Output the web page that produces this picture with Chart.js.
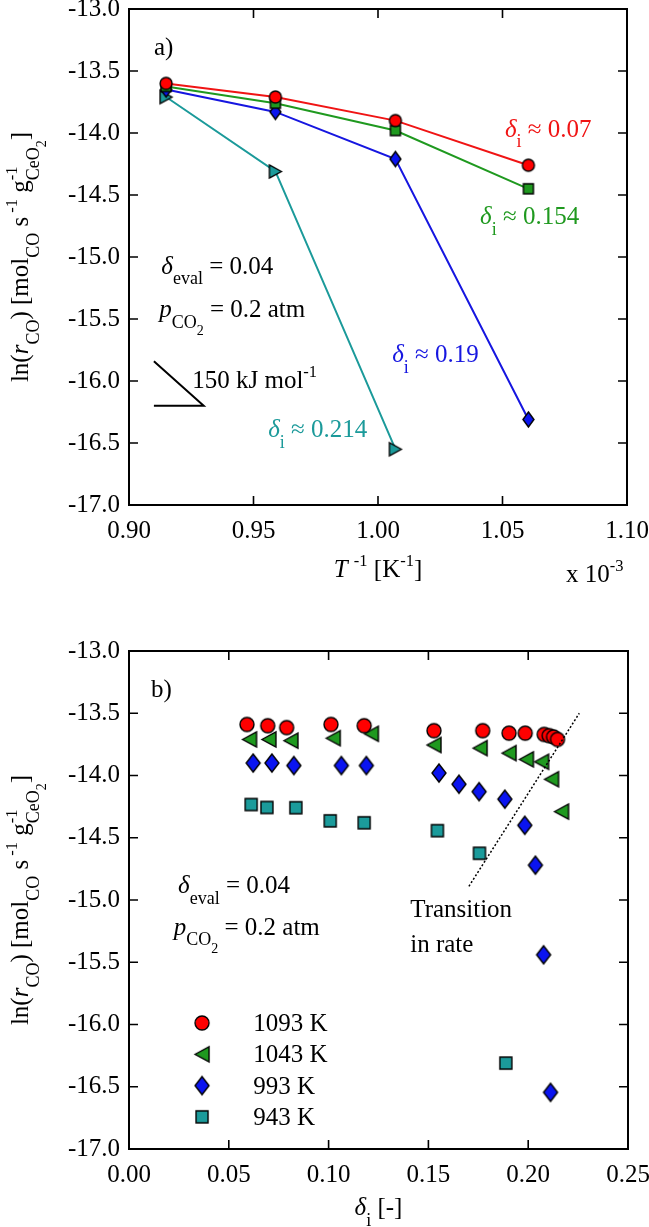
<!DOCTYPE html>
<html>
<head>
<meta charset="utf-8">
<script src="https://cdn.jsdelivr.net/npm/chart.js@4.4.1/dist/chart.umd.min.js"></script>
<style>
  html, body { margin: 0; padding: 0; background: #fff; }
  #wrap { position: relative; width: 649px; height: 1227px; overflow: hidden; }
  #chartA { position: absolute; left: 0; top: 0; }
  #chartB { position: absolute; left: 0; top: 610px; }
</style>
</head>
<body>
<div id="wrap">
  <canvas id="chartA" width="649" height="610"></canvas>
  <canvas id="chartB" width="649" height="617"></canvas>
</div>
<script>
// --- a) Arrhenius plot: x = 1000/T (1093, 1043, 993, 943 K) ---
const invTemp = [0.9149, 0.9588, 1.0070, 1.0604];
const lnRateD007 = [-13.60, -13.71, -13.90, -14.26];
const lnRateD0154 = [-13.625, -13.76, -13.98, -14.45];
const lnRateD019 = [-13.65, -13.83, -14.21, -16.31];
const lnRateD0214 = [-13.71, -14.31, -16.55];
// slope guide for 150 kJ/mol
const slopeX = [0.910, 0.930, 0.910];
const slopeY = [-15.84, -16.20, -16.20];

// --- b) rate vs. initial delta ---
const delta1093 = [0.0591, 0.0695, 0.0790, 0.1012, 0.1178, 0.1528, 0.1772, 0.1904, 0.1985, 0.2080, 0.2105, 0.2127, 0.2147];
const lnRate1093 = [-13.59, -13.60, -13.615, -13.59, -13.60, -13.64, -13.64, -13.66, -13.66, -13.67, -13.68, -13.69, -13.71];
const delta1043 = [0.0604, 0.0701, 0.0811, 0.1023, 0.1214, 0.1528, 0.1759, 0.1904, 0.1991, 0.2067, 0.2117, 0.2167];
const lnRate1043 = [-13.71, -13.71, -13.72, -13.70, -13.665, -13.755, -13.78, -13.82, -13.87, -13.89, -14.03, -14.29];
const delta993 = [0.0622, 0.0716, 0.0826, 0.1064, 0.1189, 0.1553, 0.1653, 0.1754, 0.1883, 0.1983, 0.2036, 0.2077, 0.2112];
const lnRate993 = [-13.90, -13.90, -13.92, -13.92, -13.92, -13.98, -14.07, -14.13, -14.19, -14.40, -14.72, -15.44, -16.545];
const delta943 = [0.0612, 0.0691, 0.0836, 0.1008, 0.1178, 0.1545, 0.1756, 0.1888];
const lnRate943 = [-14.233, -14.257, -14.259, -14.364, -14.38, -14.443, -14.625, -16.31];
const transitionX = [0.1703, 0.2256];
const transitionY = [-14.89, -13.50];

// tick labels
const yTickVals = [-17.0, -16.5, -16.0, -15.5, -15.0, -14.5, -14.0, -13.5, -13.0];
const xTickValsA = [0.90, 0.95, 1.00, 1.05, 1.10];
const xTickValsB = [0.00, 0.05, 0.10, 0.15, 0.20, 0.25];

const FONT = "'Liberation Serif', 'Times New Roman', Times, serif";
const RED = '#f01414', GREEN = '#1f991f', BLUE = '#1616e0', TEAL = '#1b9a9a';

Chart.defaults.font.family = FONT;
Chart.defaults.font.size = 25;
Chart.defaults.color = '#000';

const zip = (xs, ys) => xs.map((x, i) => ({ x: x, y: ys[i] }));

// small canvas markers with black outline
function makeMarker(shape, fill, w, h) {
    const c = document.createElement('canvas');
    c.width = w + 4; c.height = h + 4;
    const ctx = c.getContext('2d');
    ctx.translate(c.width / 2, c.height / 2);
    const hw = w / 2, hh = h / 2;
    ctx.beginPath();
    if (shape === 'circle') {
        ctx.ellipse(0, 0, hw, hh, 0, 0, Math.PI * 2);
    } else if (shape === 'square') {
        ctx.rect(-hw, -hh, w, h);
    } else if (shape === 'diamond') {
        ctx.moveTo(0, -hh); ctx.lineTo(hw, 0); ctx.lineTo(0, hh); ctx.lineTo(-hw, 0); ctx.closePath();
    } else if (shape === 'left') {
        ctx.moveTo(-hw, 0); ctx.lineTo(hw, -hh); ctx.lineTo(hw, hh); ctx.closePath();
    } else if (shape === 'right') {
        ctx.moveTo(hw, 0); ctx.lineTo(-hw, -hh); ctx.lineTo(-hw, hh); ctx.closePath();
    }
    ctx.fillStyle = fill;
    ctx.fill();
    ctx.lineWidth = 1.4;
    ctx.strokeStyle = '#000';
    ctx.stroke();
    return c;
}

// text with italics, sub- and superscripts; y is the baseline
function richText(ctx, parts, x, y, size, color, measureOnly) {
    let cx = x, stackW = 0;
    parts.forEach(([t, k]) => {
        let s = size, dy = 0, style = '';
        if (k === 'i') style = 'italic ';
        if (k === 'sub') { s = size * 0.72; dy = size * 0.42; }
        if (k === 'sub2') { s = size * 0.56; dy = size * 0.72; }
        if (k === 'sup' || k === 'supS') { s = size * 0.66; dy = -size * 0.45; }
        ctx.font = style + s + 'px ' + FONT;
        const w = ctx.measureText(t).width;
        if (!measureOnly) {
            ctx.fillStyle = color;
            ctx.fillText(t, cx, y + dy);
        }
        if (k === 'supS') {
            stackW = w;
        } else {
            cx += Math.max(w, stackW);
            stackW = 0;
        }
    });
    return cx - x;
}

const yTitle = [['ln(', 'n'], ['r', 'i'], ['CO', 'sub'], [') [mol', 'n'], ['CO', 'sub'], [' s', 'n'], [' -1', 'sup'],
    [' g', 'n'], ['-1', 'supS'], ['CeO', 'sub'], ['2', 'sub2'], [']', 'n']];

// frame, inward ticks, axis titles, annotations
function decor(cfg) {
    return {
        id: 'decor',
        afterDraw(chart) {
            const ctx = chart.ctx, a = chart.chartArea;
            const xs = chart.scales.x, ys = chart.scales.y;
            ctx.save();
            ctx.textBaseline = 'alphabetic';
            ctx.textAlign = 'left';

            ctx.strokeStyle = '#000';
            ctx.lineWidth = 2;
            ctx.strokeRect(a.left, a.top, a.right - a.left, a.bottom - a.top);

            const tl = 9;
            ctx.lineWidth = 1.6;
            ctx.beginPath();
            cfg.xTicks.slice(1, -1).forEach(v => {
                const px = xs.getPixelForValue(v);
                ctx.moveTo(px, a.bottom); ctx.lineTo(px, a.bottom - tl);
                ctx.moveTo(px, a.top); ctx.lineTo(px, a.top + tl);
            });
            yTickVals.slice(1, -1).forEach(v => {
                const py = ys.getPixelForValue(v);
                ctx.moveTo(a.left, py); ctx.lineTo(a.left + tl, py);
                ctx.moveTo(a.right, py); ctx.lineTo(a.right - tl, py);
            });
            ctx.stroke();

            // y title, rotated
            const tw = richText(ctx, yTitle, 0, 0, 25, '#000', true);
            ctx.save();
            ctx.translate(28, (a.top + a.bottom) / 2);
            ctx.rotate(-Math.PI / 2);
            richText(ctx, yTitle, -tw / 2, 0, 25, '#000');
            ctx.restore();

            // x title
            const xw = richText(ctx, cfg.xTitle, 0, 0, 25, '#000', true);
            richText(ctx, cfg.xTitle, (a.left + a.right) / 2 - xw / 2, a.bottom + cfg.xTitleDy, 25, '#000');

            cfg.labels.forEach(l => {
                richText(ctx, l.parts, xs.getPixelForValue(l.x), ys.getPixelForValue(l.y), 25, l.color || '#000');
            });

            if (cfg.legend) {
                const L = cfg.legend;
                const mx = xs.getPixelForValue(L.x), tx = xs.getPixelForValue(L.labelX);
                let by = ys.getPixelForValue(L.y);
                chart.data.datasets.filter(d => d.inLegend).forEach(d => {
                    const m = d.pointStyle;
                    ctx.drawImage(m, mx - m.width / 2, by - 8 - m.height / 2);
                    richText(ctx, [[d.label, 'n']], tx, by, 25, '#000');
                    by += L.step;
                });
            }
            ctx.restore();
        }
    };
}

const tickFont = { family: FONT, size: 25 };

function scaleOpts(min, max, ticks, fmt, fixH) {
    return {
        x: {
            type: 'linear', min: min, max: max,
            afterBuildTicks: s => { s.ticks = ticks.map(v => ({ value: v })); },
            ticks: { callback: v => v.toFixed(fmt), padding: 11, maxRotation: 0, autoSkip: false, color: '#000', font: tickFont },
            grid: { display: false, drawTicks: false },
            border: { display: false },
            afterFit: s => { s.height = fixH; s.paddingLeft = 0; s.paddingRight = 0; }
        },
        y: {
            type: 'linear', min: -17, max: -13,
            afterBuildTicks: s => { s.ticks = yTickVals.map(v => ({ value: v })); },
            ticks: { callback: v => v.toFixed(1), padding: 9, autoSkip: false, color: '#000', font: tickFont },
            grid: { display: false, drawTicks: false },
            border: { display: false },
            afterFit: s => { s.width = 129; s.paddingTop = 0; s.paddingBottom = 0; }
        }
    };
}

const commonPlugins = { legend: { display: false }, tooltip: { enabled: false } };

// ---- chart a ----
const lineSet = (label, xs, ys, color, marker) => ({
    label: label, data: zip(xs, ys), showLine: true, borderColor: color, borderWidth: 2,
    pointStyle: marker, pointRadius: 6, backgroundColor: color
});

new Chart(document.getElementById('chartA'), {
    type: 'scatter',
    data: {
        datasets: [
            lineSet('δi ≈ 0.07', invTemp, lnRateD007, RED, makeMarker('circle', '#ff0000', 12, 12)),
            lineSet('δi ≈ 0.154', invTemp, lnRateD0154, GREEN, makeMarker('square', '#1f991f', 10, 10)),
            lineSet('δi ≈ 0.19', invTemp, lnRateD019, BLUE, makeMarker('diamond', '#0a14f0', 11, 15)),
            lineSet('δi ≈ 0.214', invTemp.slice(0, 3), lnRateD0214, TEAL, makeMarker('right', '#1b9b9b', 12, 13)),
            { label: 'slope', data: zip(slopeX, slopeY), showLine: true, borderColor: '#000', borderWidth: 2, pointRadius: 0 }
        ]
    },
    options: {
        responsive: false, animation: false, events: [],
        layout: { padding: { top: 9, right: 22, bottom: 0, left: 0 } },
        scales: scaleOpts(0.9, 1.1, xTickValsA, 2, 105),
        plugins: commonPlugins
    },
    plugins: [decor({
        xTicks: xTickValsA,
        xTitle: [['T', 'i'], [' ', 'n'], ['-1', 'sup'], [' [K', 'n'], ['-1', 'sup'], [']', 'n']],
        xTitleDy: 72,
        labels: [
            { x: 0.9100, y: -13.37, parts: [['a)', 'n']] },
            { x: 1.0510, y: -14.032, color: RED, parts: [['δ', 'i'], ['i', 'sub'], [' ≈ 0.07', 'n']] },
            { x: 1.0410, y: -14.734, color: GREEN, parts: [['δ', 'i'], ['i', 'sub'], [' ≈ 0.154', 'n']] },
            { x: 1.0057, y: -15.847, color: BLUE, parts: [['δ', 'i'], ['i', 'sub'], [' ≈ 0.19', 'n']] },
            { x: 0.9559, y: -16.452, color: TEAL, parts: [['δ', 'i'], ['i', 'sub'], [' ≈ 0.214', 'n']] },
            { x: 0.9130, y: -15.137, parts: [['δ', 'i'], ['eval', 'sub'], [' = 0.04', 'n']] },
            { x: 0.9121, y: -15.484, parts: [['p', 'i'], ['CO', 'sub'], ['2', 'sub2'], [' = 0.2 atm', 'n']] },
            { x: 0.9254, y: -16.056, parts: [['150 kJ mol', 'n'], ['-1', 'sup']] },
            { x: 1.0755, y: -17.62, parts: [['x 10', 'n'], ['-3', 'sup']] }
        ]
    })]
});

// ---- chart b ----
const dotSet = (label, xs, ys, marker) => ({
    label: label, data: zip(xs, ys), showLine: false, pointStyle: marker, pointRadius: 7, inLegend: true
});

new Chart(document.getElementById('chartB'), {
    type: 'scatter',
    data: {
        datasets: [
            { label: 'transition', data: zip(transitionX, transitionY), showLine: true, borderColor: '#000',
              borderWidth: 1.5, borderDash: [2, 2], pointRadius: 0 },
            dotSet('1093 K', delta1093, lnRate1093, makeMarker('circle', '#ff0000', 14, 14)),
            dotSet('1043 K', delta1043, lnRate1043, makeMarker('left', '#1f991f', 14, 15)),
            dotSet('993 K', delta993, lnRate993, makeMarker('diamond', '#0a14f0', 14, 18)),
            dotSet('943 K', delta943, lnRate943, makeMarker('square', '#1b9b9b', 12, 12))
        ]
    },
    options: {
        responsive: false, animation: false, events: [],
        layout: { padding: { top: 41, right: 21, bottom: 0, left: 0 } },
        scales: scaleOpts(0, 0.25, xTickValsB, 2, 78),
        plugins: commonPlugins
    },
    plugins: [decor({
        xTicks: xTickValsB,
        xTitle: [['δ', 'i'], ['i', 'sub'], [' [-]', 'n']],
        xTitleDy: 66,
        labels: [
            { x: 0.0110, y: -13.369, parts: [['b)', 'n']] },
            { x: 0.0246, y: -14.944, parts: [['δ', 'i'], ['eval', 'sub'], [' = 0.04', 'n']] },
            { x: 0.0224, y: -15.281, parts: [['p', 'i'], ['CO', 'sub'], ['2', 'sub2'], [' = 0.2 atm', 'n']] },
            { x: 0.1409, y: -15.137, parts: [['Transition', 'n']] },
            { x: 0.1409, y: -15.418, parts: [['in rate', 'n']] }
        ],
        legend: { x: 0.0366, labelX: 0.0623, y: -16.052, step: 31.3 }
    })]
});
</script>
</body>
</html>
